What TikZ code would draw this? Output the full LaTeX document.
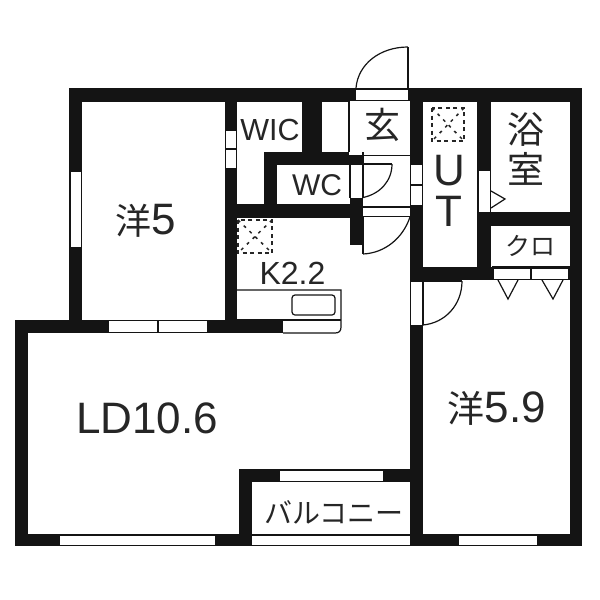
\documentclass[tikz,border=0pt]{standalone}
\usepackage{fontspec}
\setmainfont{Liberation Sans}
\newfontfamily\jp{Noto Sans CJK JP}
\tikzset{
  wall/.style={fill=black!92,draw=none},
  thin/.style={draw=black!92,line width=1.2pt},
  win/.style={fill=white,draw=none},
  vent/.style={draw=black!85,line width=1.5pt,dash pattern=on 4pt off 3.5pt},
  ventd/.style={draw=black!85,line width=1.5pt,dash pattern=on 3pt off 5pt},
  lbl/.style={inner sep=0pt,text=black!85},
}
\begin{document}
\begin{tikzpicture}[x=1pt,y=-1pt]
\useasboundingbox (0,0) rectangle (600,600);
\fill[white] (0,0) rectangle (600,600);
% main walls
\fill[wall] (69,88) rectangle (582,101.5);
\fill[wall] (69,88) rectangle (82,333);
\fill[wall] (15,320) rectangle (283,333);
\fill[wall] (15,320) rectangle (28,546);
\fill[wall] (225,88) rectangle (237,333);
\fill[wall] (302,88) rectangle (322,152);
\fill[wall] (264,152) rectangle (363,165);
\fill[wall] (264,152) rectangle (277,218);
\fill[wall] (237,204) rectangle (363,218);
\fill[wall] (350,198) rectangle (363,245);
\fill[wall] (410,88) rectangle (423,546);
\fill[wall] (477,88) rectangle (491,280);
\fill[wall] (410,267) rectangle (494,280);
\fill[wall] (491,212) rectangle (582,226);
\fill[wall] (570,88) rectangle (582,546);
\fill[wall] (492,266) rectangle (582,280);
\fill[wall] (239,469) rectangle (252,546);
\fill[wall] (239,469) rectangle (423,482);
\fill[wall] (15,534) rectangle (582,546);
% entrance threshold
\fill[win] (356,87) rectangle (408,100);
\fill[win] (349,100) rectangle (410,155);
\draw[thin] (356,89) -- (408,89);
\draw[thin] (349,100.5) -- (410,100.5);
\draw[thin] (349,101) -- (349,152);
\draw[thin] (408,47) -- (408,89);
\draw[thin] (408,47) .. controls (380,47) and (358,64) .. (356,88);
% genkan lines
\draw[thin] (363,155.5) -- (410,155.5);
\draw[thin] (363,207) -- (410,207);
\draw[thin] (363,216.5) -- (410,216.5);
% WC door
\fill[win] (351,165) rectangle (362,198);
\draw[thin] (350,165) -- (350,198);
\draw[thin] (363,152) -- (363,197.5);
\draw[thin] (363,164) -- (392,164);
\draw[thin] (392,164) .. controls (392,181) and (380,194) .. (363,197.5);
% lower genkan door
\draw[thin] (363,216) -- (363,254);
\draw[thin] (363,254) .. controls (385,253) and (403,238) .. (410,217);
% WIC door (in wall)
\fill[win] (226,131) rectangle (236,168);
\draw[thin] (226,149) -- (236,149);
% west window
\fill[win] (71,172) rectangle (81,247);
% bedroom south window
\fill[win] (109,321) rectangle (207,332);
\draw[thin] (158,320) -- (158,333);
% kitchen counter
\fill[win] (284,321) rectangle (341,333);
\draw[thin] (237,290) -- (341,290) -- (341,327) .. controls (341,331) and (339,333) .. (335,333) -- (283,333);
\draw[thin] (237,320) -- (341,320);
\draw[thin,rounded corners=3pt] (292,295) rectangle (335,315);
% UT door
\fill[win] (411,165) rectangle (422,205);
\draw[thin] (411,185) -- (422,185);
% bath door
\fill[win] (479,171) rectangle (490,212);
\draw[thin] (491,191) -- (505,199) -- (491,208);
% closet doors
\fill[win] (494,269) rectangle (530,279);
\fill[win] (532,269) rectangle (568,279);
\draw[thin] (498,280) -- (508,299) -- (518,280);
\draw[thin] (542,280) -- (553,299) -- (563,280);
% bedroom 2 door
\fill[win] (411,282) rectangle (423,325);
\draw[thin] (423,281) -- (423,325);
\draw[thin] (423,281) -- (462,281);
\draw[thin] (462,281) .. controls (462,305) and (445,323) .. (423,325);
% balcony windows
\fill[win] (280,471) rectangle (383,481);
\fill[win] (252,536) rectangle (410,544.5);
\fill[win] (60,536) rectangle (215,544.5);
\fill[win] (459,536) rectangle (537,544.5);
% vents
\draw[vent] (432,108) rectangle (464,141);
\draw[ventd] (432,108) -- (464,141) (464,108) -- (432,141);
\draw[vent] (238,220) rectangle (272,253);
\draw[ventd] (238,220) -- (272,253) (272,220) -- (238,253);
% labels
\node[lbl,font=\fontsize{44}{44}\selectfont] (r1) at (146,221) {{\jp\fontsize{36}{36}\selectfont 洋}5};
\node[lbl,font=\fontsize{44}{44}\selectfont] (ld) at (147,418) {LD10.6};
\node[lbl,font=\fontsize{44}{44}\selectfont] (r2) at (497,408) {{\jp\fontsize{37}{37}\selectfont 洋}5.9};
\node[lbl,font=\fontsize{30.5}{30.5}\selectfont] (wic) at (270,130) {WIC};
\node[lbl,font=\fontsize{30}{30}\selectfont] (wc) at (317,185) {WC};
\node[lbl,font=\fontsize{32}{32}\selectfont] (k) at (292.5,273) {K2.2};
\node[lbl,font=\fontsize{44}{44}\selectfont] (u) at (449,171) {U};
\node[lbl,font=\fontsize{44}{44}\selectfont] (t) at (449,211) {T};
\node[lbl,font=\jp\fontsize{36}{36}\selectfont] (gen) at (382,125) {玄};
\node[lbl,font=\jp\fontsize{37}{37}\selectfont] (yoku) at (526,129) {浴};
\node[lbl,font=\jp\fontsize{37}{37}\selectfont] (shitsu) at (526,169) {室};
\node[lbl,font=\jp\fontsize{25}{25}\selectfont] (kuro) at (530,246) {クロ};
\node[lbl,font=\jp\fontsize{28}{28}\selectfont] (bal) at (334,512) {バルコニー};
\end{tikzpicture}
\end{document}
